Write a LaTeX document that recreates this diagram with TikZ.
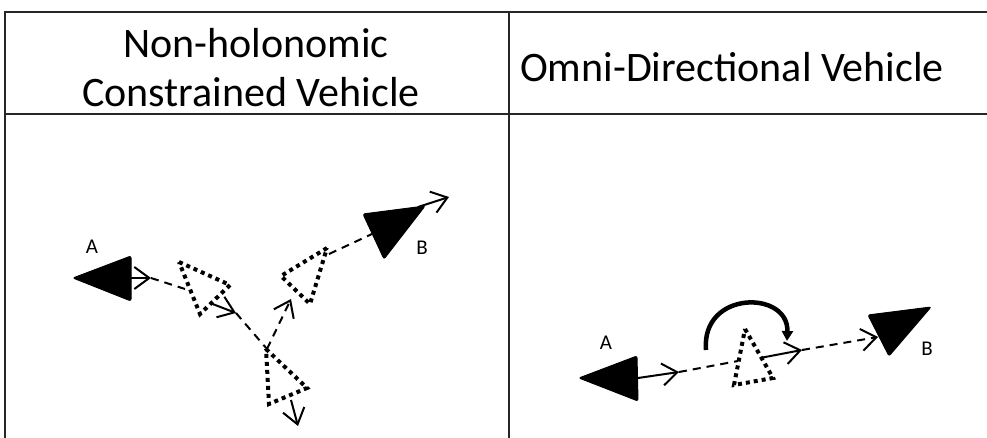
\documentclass[tikz,border=0pt]{standalone}
\usepackage{fontspec}
\setmainfont{Carlito}
\usetikzlibrary{arrows.meta}
\begin{document}
\begin{tikzpicture}[x=1pt,y=-1pt,
  tbl/.style={line width=2.2pt, draw=black!85},
  veh/.style={fill=black, draw=black, line width=1pt, rounded corners=2pt},
  ghost/.style={draw=black, line width=4pt, dash pattern=on 4pt off 4pt},
  mv/.style={line width=2pt, -{Straight Barb[length=15pt,width=22pt,line width=2pt]}},
  trail/.style={line width=2pt, dash pattern=on 8pt off 6pt},
  trailarrow/.style={trail, -{Straight Barb[length=15pt,width=22pt,line width=2pt,sep=0pt]}},
  title/.style={font=\fontsize{42}{50}\selectfont, anchor=base, inner sep=0pt},
  lbl/.style={font=\fontsize{21}{25}\selectfont, inner sep=0pt}
]
\useasboundingbox (0,0) rectangle (987,438);
% table
\draw[tbl] (5,438) -- (5,12) -- (987,12);
\draw[tbl] (5,114) -- (987,114);
\draw[tbl] (509,12) -- (509,438);
\node[title] (t1) at (256,58) {Non-holonomic};
\node[title] (t2) at (251,107) {Constrained Vehicle};
\node[title] (t3) at (732,82) {Omni-Directional Vehicle};

% ---------- left panel ----------
\filldraw[veh] (73,278) -- (131,256) -- (131,301) -- cycle;
\node[lbl] (la) at (92,247) {A};
\coordinate (a0) at (131,278);
\coordinate (a1) at (151,278);
\draw[mv] (a0) -- (a1);
\coordinate (g1e) at (185,289);
\draw[trail] (a1) -- (g1e);
\draw[ghost] (179,262) -- (230,285) -- (200,314) -- cycle;
\coordinate (g1a) at (210,303);
\coordinate (g1b) at (236,313);
\draw[mv] (g1a) -- (g1b);
\coordinate (g2t) at (267,349);
\draw[trail] (g1b) -- (g2t);
\draw[ghost] (266,349) -- (307,388) -- (269,404) -- cycle;
\coordinate (g2a) at (291,400);
\coordinate (g2b) at (298,426);
\draw[mv] (g2a) -- (g2b);
\coordinate (g3a) at (291,299);
\draw[trailarrow] (g2t) -- (g3a);
\draw[ghost] (327,248) -- (281,276) -- (310,304) -- cycle;
\coordinate (g3t) at (329,254);
\coordinate (be) at (372,234);
\draw[trail] (g3t) -- (be);
\filldraw[veh] (363,214) -- (425,206) -- (384,259) -- cycle;
\coordinate (b0) at (418,207);
\coordinate (b1) at (449,197);
\draw[mv] (b0) -- (b1);
\node[lbl] (lb) at (422,248) {B};

% ---------- right panel ----------
\filldraw[veh] (579,378) -- (637,356) -- (638,401) -- cycle;
\node[lbl] (ra) at (606,343) {A};
\coordinate (c0) at (638,378);
\coordinate (c1) at (679,372);
\draw[mv] (c0) -- (c1);
\coordinate (ce) at (738,361);
\draw[trail] (c1) -- (ce);
\draw[ghost] (745,329) -- (773,378) -- (734,385) -- cycle;
\coordinate (c2) at (760,358);
\coordinate (c3) at (802,350);
\draw[mv] (c2) -- (c3);
\coordinate (c4) at (878,337);
\draw[trailarrow] (c3) -- (c4);
\filldraw[veh] (868,315) -- (931,307) -- (889,356) -- cycle;
\node[lbl] (rb) at (927,349) {B};
\coordinate (r0) at (706,350);
\coordinate (r1) at (787,341);
\draw[line width=4.5pt, -{Triangle[length=10pt,width=11pt]}] (r0) .. controls (701,290) and (789,290) .. (r1);
\end{tikzpicture}
\end{document}
